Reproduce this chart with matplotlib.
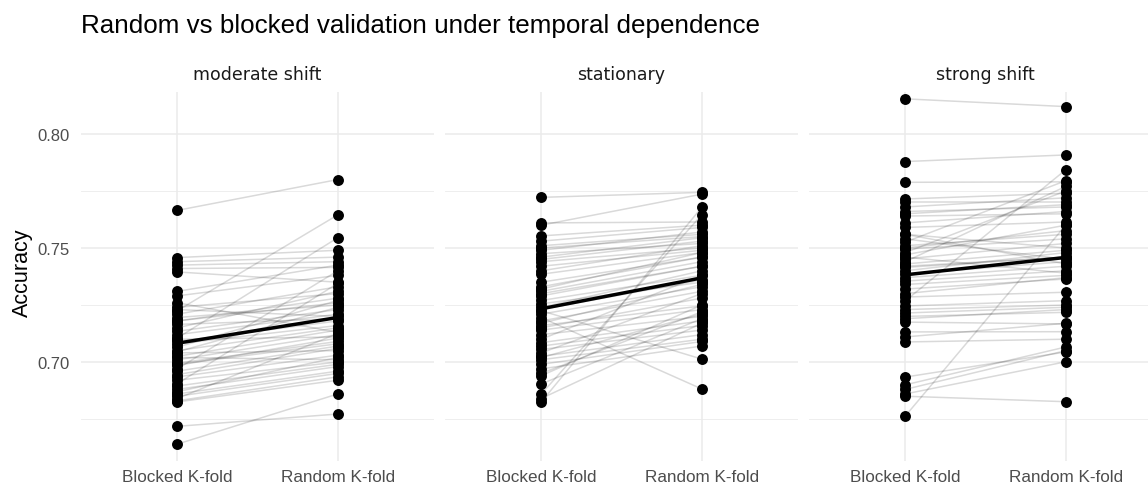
import numpy as np
import matplotlib
matplotlib.use("Agg")
import matplotlib.pyplot as plt

plt.rcParams['font.family'] = ['Liberation Sans', 'DejaVu Sans']

FACETS = ['moderate shift', 'stationary', 'strong shift']
METHODS = ['Blocked K-fold', 'Random K-fold']

# paired accuracies, one pair per replicate
MOD_BLOCKED = [0.7665, 0.7458, 0.7440, 0.7425, 0.7410, 0.7395, 0.7310, 0.7290, 0.7240, 0.7225,
               0.7210, 0.7195, 0.7180, 0.7165, 0.7150, 0.7135, 0.7120, 0.7105, 0.7090, 0.7080,
               0.7065, 0.7050, 0.7040, 0.7025, 0.7010, 0.6995, 0.6985, 0.6970, 0.6960, 0.6945,
               0.6935, 0.6920, 0.6905, 0.6895, 0.6880, 0.6870, 0.6860, 0.6850, 0.6840, 0.6830,
               0.6825, 0.6990, 0.7020, 0.7045, 0.7100, 0.7180, 0.7230, 0.7260, 0.6718, 0.6640]
MOD_RANDOM = [0.7800, 0.7490, 0.7460, 0.7440, 0.7415, 0.7350, 0.7425, 0.7380, 0.7300, 0.7645,
              0.7330, 0.7250, 0.7280, 0.7190, 0.7310, 0.7230, 0.7210, 0.7545, 0.7180, 0.7160,
              0.7270, 0.7150, 0.7050, 0.7140, 0.7120, 0.7090, 0.7105, 0.7400, 0.7070, 0.7060,
              0.7030, 0.7000, 0.7345, 0.6990, 0.6980, 0.7020, 0.6960, 0.6950, 0.7125, 0.6935,
              0.6920, 0.7080, 0.7010, 0.7240, 0.7110, 0.7260, 0.7200, 0.7130, 0.6772, 0.6860]

STAT_BLOCKED = [0.7722, 0.7610, 0.7600, 0.7553, 0.7530, 0.7510, 0.7490, 0.7475, 0.7460, 0.7440,
                0.7420, 0.7400, 0.7385, 0.7330, 0.7310, 0.7290, 0.7270, 0.7255, 0.7240, 0.7225,
                0.7210, 0.7195, 0.7180, 0.7160, 0.7140, 0.7120, 0.7100, 0.7085, 0.7070, 0.7055,
                0.7040, 0.7025, 0.7010, 0.6990, 0.6970, 0.6950, 0.6940, 0.6904, 0.6860, 0.6825,
                0.7450, 0.7350, 0.7300, 0.7230, 0.7170, 0.7150, 0.7020, 0.6840, 0.7500, 0.7320]
STAT_RANDOM = [0.7744, 0.7614, 0.7736, 0.7600, 0.7590, 0.7560, 0.7570, 0.7520, 0.7545, 0.7500,
               0.7490, 0.7510, 0.7480, 0.7460, 0.7440, 0.7420, 0.7380, 0.7350, 0.7400, 0.7013,
               0.7330, 0.6882, 0.7310, 0.7246, 0.7230, 0.7200, 0.7380, 0.7180, 0.7160, 0.7140,
               0.7300, 0.7120, 0.7100, 0.7090, 0.7070, 0.7220, 0.7250, 0.7190, 0.7645, 0.7678,
               0.7530, 0.7460, 0.7420, 0.7360, 0.7340, 0.7280, 0.7210, 0.7170, 0.7550, 0.7480]

STRONG_BLOCKED = [0.8154, 0.7879, 0.7788, 0.7715, 0.7700, 0.7680, 0.7660, 0.7640, 0.7610, 0.7590,
                  0.7526, 0.7510, 0.7495, 0.7470, 0.7452, 0.7430, 0.7415, 0.7400, 0.7385, 0.7370,
                  0.7355, 0.7340, 0.7320, 0.7300, 0.7285, 0.7268, 0.7246, 0.7230, 0.7215, 0.7200,
                  0.7190, 0.7175, 0.7132, 0.7110, 0.7088, 0.6934, 0.6900, 0.6880, 0.6860, 0.6850,
                  0.6763, 0.7650, 0.7480, 0.7440, 0.7560, 0.7540, 0.7460, 0.7420, 0.7500, 0.7560]
STRONG_RANDOM = [0.8120, 0.7908, 0.7790, 0.7740, 0.7700, 0.7720, 0.7680, 0.7650, 0.7660, 0.7614,
                 0.7795, 0.7560, 0.7540, 0.7600, 0.7520, 0.7490, 0.7460, 0.7480, 0.7440, 0.7420,
                 0.7400, 0.7380, 0.7364, 0.7370, 0.7306, 0.7843, 0.7269, 0.7250, 0.7240, 0.7218,
                 0.7230, 0.7167, 0.7133, 0.7170, 0.7100, 0.7044, 0.7066, 0.7050, 0.7001, 0.6826,
                 0.7600, 0.7690, 0.7750, 0.7770, 0.7500, 0.7450, 0.7390, 0.7460, 0.7576, 0.7430]

DATA = {
    'moderate shift': (MOD_BLOCKED, MOD_RANDOM),
    'stationary': (STAT_BLOCKED, STAT_RANDOM),
    'strong shift': (STRONG_BLOCKED, STRONG_RANDOM),
}

W, H = 1148, 485
fig = plt.figure(figsize=(W / 100, H / 100), dpi=100)
fig.patch.set_facecolor('white')

panel_left = [81, 445, 809]
panel_w = 353
top, bot = 93, 462

for i, facet in enumerate(FACETS):
    ax = fig.add_axes([panel_left[i] / W, 1 - bot / H, panel_w / W, (bot - top) / H])
    blocked, rnd = DATA[facet]
    blocked = np.array(blocked)
    rnd = np.array(rnd)
    for b, r in zip(blocked, rnd):
        ax.plot([0, 1], [b, r], color='black', alpha=0.15, lw=1.1, zorder=2, solid_capstyle='butt')
    ax.plot([0, 1], [blocked.mean(), rnd.mean()], color='black', lw=2.5, zorder=3)
    ax.scatter(np.zeros(len(blocked)), blocked, s=62, color='black', zorder=4, linewidths=0)
    ax.scatter(np.ones(len(rnd)), rnd, s=62, color='black', zorder=4, linewidths=0)

    ax.set_xlim(-0.6, 1.6)
    ax.set_ylim(0.6566, 0.8184)
    ax.set_xticks([0, 1])
    ax.set_xticklabels(METHODS)
    ax.set_yticks([0.70, 0.75, 0.80])
    ax.set_yticks([0.675, 0.725, 0.775], minor=True)
    if i == 0:
        ax.set_yticklabels(['0.70', '0.75', '0.80'])
    else:
        ax.set_yticklabels([])
    ax.grid(True, which='major', color='#ebebeb', lw=1.1, zorder=0)
    ax.grid(True, which='minor', axis='y', color='#ebebeb', lw=0.6, zorder=0)
    ax.set_axisbelow(True)
    for s in ax.spines.values():
        s.set_visible(False)
    ax.tick_params(which='both', length=0)
    ax.tick_params(axis='x', pad=6, labelsize=12.3, labelcolor='#4d4d4d')
    ax.tick_params(axis='y', pad=8, labelsize=12, labelcolor='#4d4d4d')
    ax.set_facecolor('white')

    fig.text((panel_left[i] + panel_w / 2) / W, 1 - 75 / H, facet, ha='center', va='center',
             fontsize=12.5, color='#1a1a1a', family=['DejaVu Sans'])

fig.text(22 / W, 1 - 273 / H, 'Accuracy', rotation=90, ha='center', va='center',
         fontsize=15.5, color='black')
fig.text(81 / W, 1 - 33.5 / H, 'Random vs blocked validation under temporal dependence',
         ha='left', va='baseline', fontsize=18.7, color='black')

fig.savefig('out.png', dpi=100)
